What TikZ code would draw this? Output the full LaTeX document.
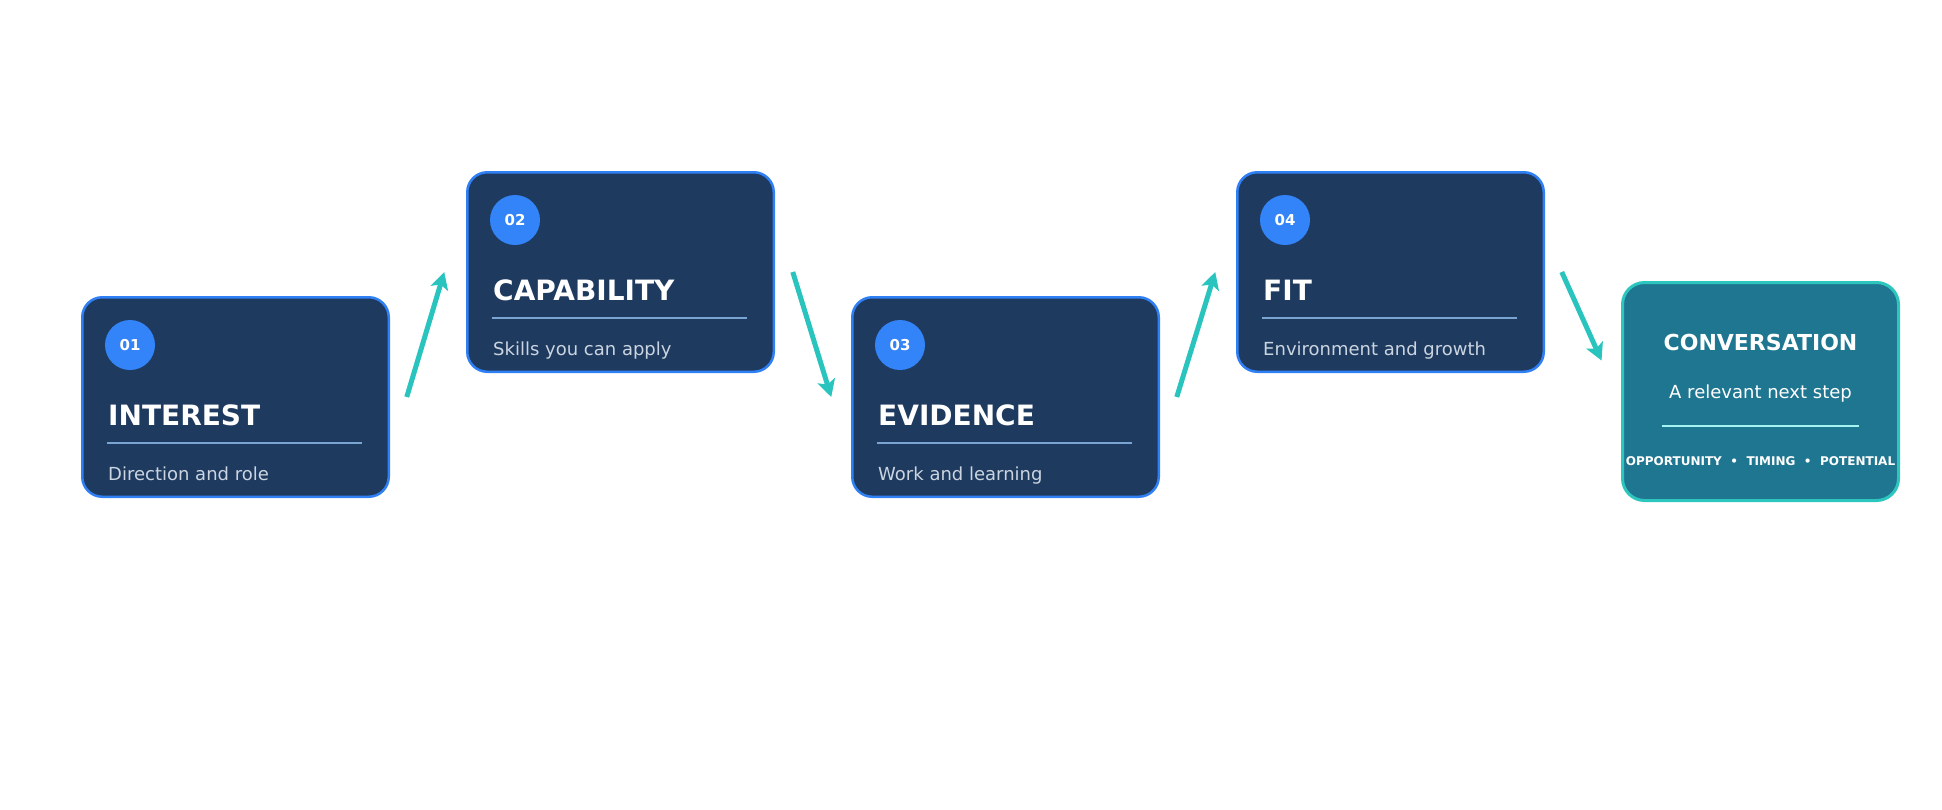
\documentclass[tikz,border=0pt]{standalone}
\usepackage{fontspec}
\setmainfont{DejaVu Sans}
\usetikzlibrary{arrows.meta}
\definecolor{boxfill}{HTML}{1E3A5F}
\definecolor{boxborder}{HTML}{2F7FF5}
\definecolor{circfill}{HTML}{3384F8}
\definecolor{rulecol}{HTML}{7AA5D2}
\definecolor{subcol}{HTML}{CBD5E1}
\definecolor{convfill}{HTML}{1F7690}
\definecolor{convborder}{HTML}{2DC6BF}
\definecolor{convrule}{HTML}{A5F3F0}
\definecolor{arrcol}{HTML}{2AC4BF}
\tikzset{
  card/.style={draw=boxborder, fill=boxfill, line width=2.5pt, rounded corners=20pt,
    minimum width=306.5pt, minimum height=199.5pt, anchor=north west, inner sep=0pt, outer sep=0pt},
  convcard/.style={draw=convborder, fill=convfill, line width=3pt, rounded corners=22pt,
    minimum width=276pt, minimum height=218pt, anchor=north west, inner sep=0pt, outer sep=0pt},
  numcirc/.style={circle, fill=circfill, minimum size=50pt, inner sep=0pt, text=white,
    font=\fontsize{15}{18}\selectfont\bfseries},
  ttl/.style={anchor=base west, inner sep=0pt, text=white, font=\fontsize{28}{32}\selectfont\bfseries},
  sub/.style={anchor=base west, inner sep=0pt, text=subcol, font=\fontsize{18}{22}\selectfont},
  cardrule/.style={draw=rulecol, line width=1.8pt},
  flow/.style={draw=arrcol, line width=5pt, -{Stealth[length=17pt, width=18pt, inset=4pt]}}
}
\newcommand\stepcard[5]{%
  \node[card] (#1) at (#2) {};
  \node[numcirc] (#1n) at ([shift={(47.75,47.75)}]#1.north west) {#3};
  \node[ttl] (#1t) at ([shift={(25.75,127.75)}]#1.north west) {#4};
  \draw[cardrule] ([shift={(24.75,145.75)}]#1.north west) -- ([shift={(279.75,145.75)}]#1.north west);
  \node[sub] (#1s) at ([shift={(25.75,182.75)}]#1.north west) {#5};
}
\begin{document}
\begin{tikzpicture}[x=1pt,y=-1pt]
\useasboundingbox (0,0) rectangle (1942,809);
\stepcard{b1}{82.25,297.25}{01}{INTEREST}{Direction and role}
\stepcard{b2}{467.25,172.25}{02}{CAPABILITY}{Skills you can apply}
\stepcard{b3}{852.25,297.25}{03}{EVIDENCE}{Work and learning}
\stepcard{b4}{1237.25,172.25}{04}{FIT}{Environment and growth}
\node[convcard] (c5) at (1622.5,282.5) {};
\node[anchor=base, inner sep=0pt, text=white, font=\fontsize{22}{26}\selectfont\bfseries]
  (c5t) at ([shift={(138,67.5)}]c5.north west) {CONVERSATION};
\node[anchor=base, inner sep=0pt, text=white, font=\fontsize{18}{22}\selectfont]
  (c5s) at ([shift={(138,115.5)}]c5.north west) {A relevant next step};
\draw[draw=convrule, line width=2pt] ([shift={(39.5,143.5)}]c5.north west) -- ([shift={(236.5,143.5)}]c5.north west);
\node[anchor=base, inner sep=0pt, text=white, font=\fontsize{12}{14}\selectfont\bfseries]
  (c5k) at ([shift={(138,182.5)}]c5.north west) {OPPORTUNITY\hspace{8.5pt}•\hspace{8.5pt}TIMING\hspace{8.5pt}•\hspace{8.5pt}POTENTIAL};
\draw[flow] ([shift={(18,0)}]b1.east) -- ([shift={(-23,0)}]b2.west);
\draw[flow] ([shift={(19,0)}]b2.east) -- ([shift={(-21,0)}]b3.west);
\draw[flow] ([shift={(18,0)}]b3.east) -- ([shift={(-22,0)}]b4.west);
\draw[flow] ([shift={(18,0)}]b4.east) -- ([shift={(-21,-31)}]c5.west);
\end{tikzpicture}
\end{document}
